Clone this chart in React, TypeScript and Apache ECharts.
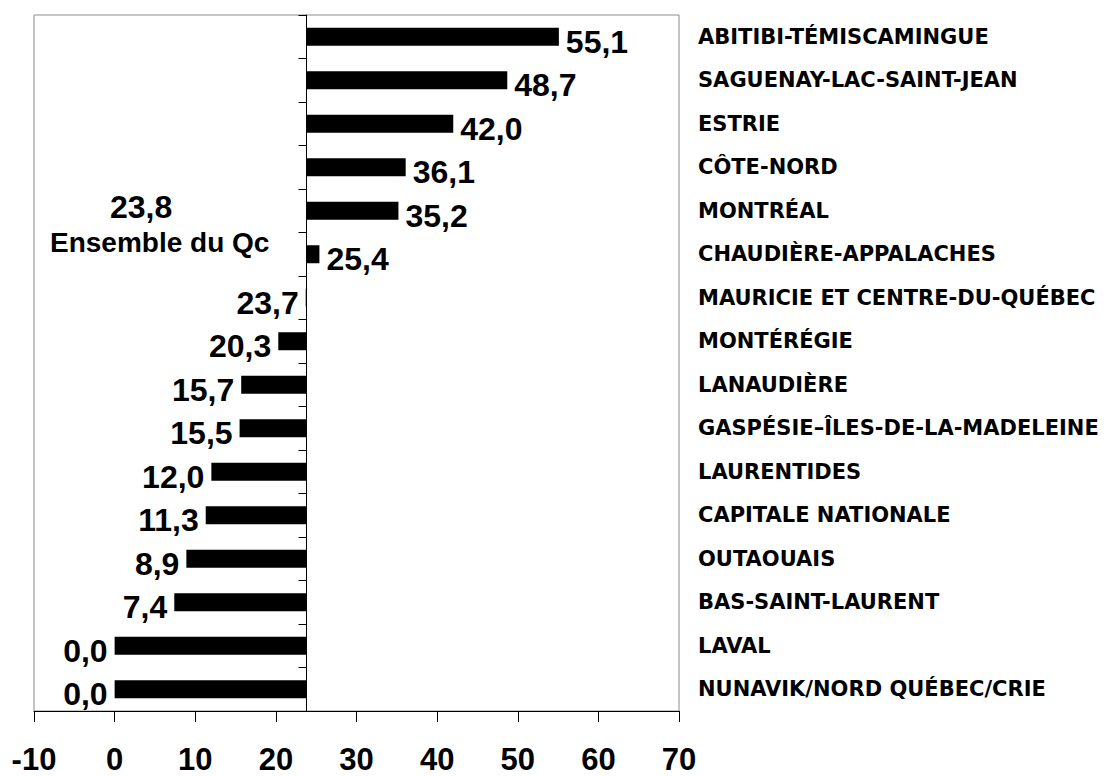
import React, { useEffect, useRef } from "react";
import * as echarts from "echarts";

const categories = [
  "ABITIBI-TÉMISCAMINGUE",
  "SAGUENAY-LAC-SAINT-JEAN",
  "ESTRIE",
  "CÔTE-NORD",
  "MONTRÉAL",
  "CHAUDIÈRE-APPALACHES",
  "MAURICIE ET CENTRE-DU-QUÉBEC",
  "MONTÉRÉGIE",
  "LANAUDIÈRE",
  "GASPÉSIE–ÎLES-DE-LA-MADELEINE",
  "LAURENTIDES",
  "CAPITALE NATIONALE",
  "OUTAOUAIS",
  "BAS-SAINT-LAURENT",
  "LAVAL",
  "NUNAVIK/NORD QUÉBEC/CRIE",
];

const values = [55.1, 48.7, 42.0, 36.1, 35.2, 25.4, 23.7, 20.3, 15.7, 15.5, 12.0, 11.3, 8.9, 7.4, 0.0, 0.0];

const AVERAGE = 23.8;
const AVERAGE_LABEL = "Ensemble du Qc";
const X_MIN = -10;
const X_MAX = 70;
const X_STEP = 10;

const fmt = (v: number) => v.toFixed(1).replace(".", ",");

const FONT = "'Liberation Sans', Arial, sans-serif";

export default function App() {
  const ref = useRef<HTMLDivElement>(null);

  useEffect(() => {
    if (!ref.current) return;
    const chart = echarts.init(ref.current, null, { renderer: "svg" });

    const W = 1119;
    const gridLeft = 34;
    const gridRight = 440;
    const plotW = W - gridLeft - gridRight;
    const avgOffset = -((AVERAGE - X_MIN) / (X_MAX - X_MIN)) * plotW;

    const baseData = values.map((v) => Math.min(v, AVERAGE));
    const barData = values.map((v) => ({
      value: Math.abs(v - AVERAGE),
      label: { position: v >= AVERAGE ? "right" : "left" },
    }));

    chart.setOption({
      animation: false,
      backgroundColor: "#ffffff",
      textStyle: { fontFamily: FONT },
      grid: {
        left: gridLeft,
        right: gridRight,
        top: 15,
        bottom: 65,
        show: true,
        borderColor: "#8c8c8c",
        borderWidth: 1,
        backgroundColor: "transparent",
      },
      xAxis: {
        type: "value",
        min: X_MIN,
        max: X_MAX,
        interval: X_STEP,
        splitLine: { show: false },
        axisLine: { show: true, lineStyle: { color: "#000", width: 1 } },
        axisTick: { show: true, length: 11, lineStyle: { color: "#000" } },
        axisLabel: {
          color: "#000",
          fontSize: 31,
          fontWeight: "bold",
          fontFamily: FONT,
          lineHeight: 31,
          margin: 33,
        },
      },
      yAxis: [
        {
          type: "category",
          data: categories,
          inverse: true,
          position: "left",
          offset: avgOffset,
          axisLine: { show: true, lineStyle: { color: "#000", width: 1 } },
          axisTick: { show: true, length: 8, lineStyle: { color: "#000" } },
          axisLabel: { show: false },
          splitLine: { show: false },
        },
        {
          type: "category",
          data: categories,
          inverse: true,
          position: "right",
          axisLine: { show: false },
          axisTick: { show: false },
          axisLabel: {
            show: true,
            margin: 19,
            color: "#000",
            fontSize: 21,
            fontWeight: "bold",
            fontFamily: "'DejaVu Sans', sans-serif",
            align: "left",
          },
          splitLine: { show: false },
        },
      ],
      series: [
        {
          type: "bar",
          stack: "total",
          yAxisIndex: 0,
          barWidth: 18,
          data: baseData,
          itemStyle: { color: "transparent" },
          silent: true,
        },
        {
          type: "bar",
          stack: "total",
          yAxisIndex: 0,
          barWidth: 18,
          data: barData,
          itemStyle: { color: "#000" },
          label: {
            show: true,
            distance: 7,
            offset: [0, 5],
            color: "#000",
            fontSize: 32,
            fontWeight: "bold",
            fontFamily: FONT,
            formatter: (p: any) => fmt(values[p.dataIndex]),
          },
        },
      ],
      graphic: [
        {
          type: "text",
          left: 110,
          top: 191,
          style: {
            text: fmt(AVERAGE),
            fontSize: 32,
            fontWeight: "bold",
            fontFamily: FONT,
            fill: "#000",
          },
        },
        {
          type: "text",
          left: 50,
          top: 228,
          style: {
            text: AVERAGE_LABEL,
            fontSize: 28,
            fontWeight: "bold",
            fontFamily: FONT,
            fill: "#000",
          },
        },
      ],
    });

    return () => chart.dispose();
  }, []);

  return (
    <div
      ref={ref}
      style={{ position: "fixed", left: 0, top: 0, width: 1119, height: 776, background: "#fff" }}
    />
  );
}
